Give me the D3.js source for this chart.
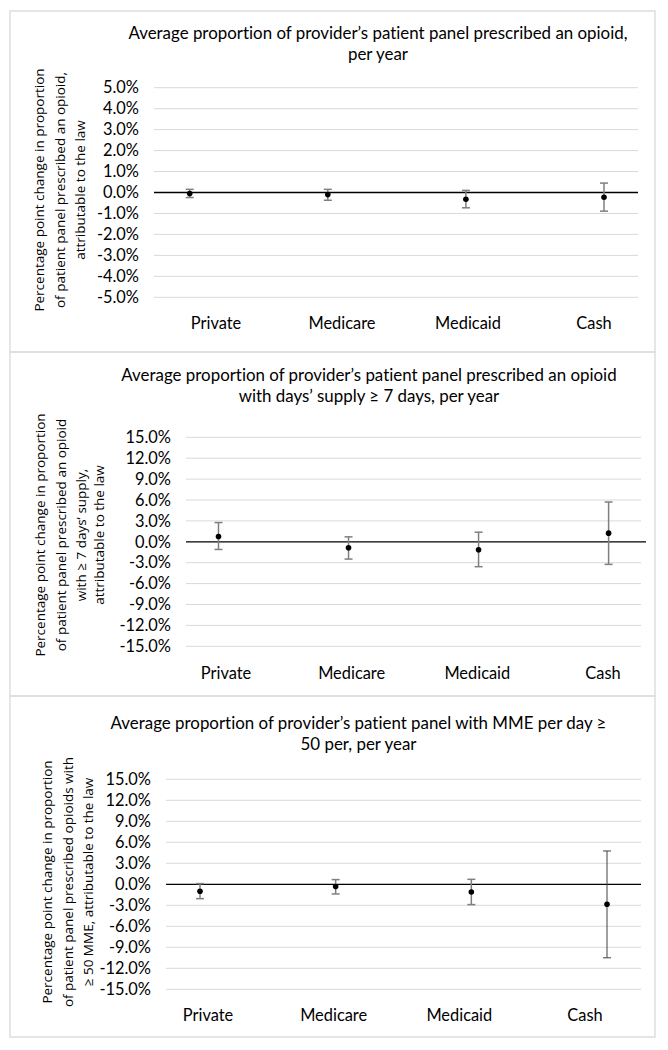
<!DOCTYPE html>
<html><head><meta charset="utf-8">
<script src="https://cdn.jsdelivr.net/npm/d3@7"></script>
<style>body{margin:0;background:#fff;} svg{display:block;} text{font-family:Lato,"Open Sans",sans-serif;fill:#000;font-variant-ligatures:none;font-feature-settings:"liga" 0;}</style>
</head><body>
<script>
// ---- data ----
const categories = ["Private","Medicare","Medicaid","Cash"];
const titles1 = ["Average proportion of provider’s patient panel prescribed an opioid,","per year"];
const titles2 = ["Average proportion of provider’s patient panel prescribed an opioid","with days’ supply ≥ 7 days, per year"];
const titles3 = ["Average proportion of provider’s patient panel with MME per day ≥","50 per, per year"];
const yTitle1 = ["Percentage point change in proportion","of patient panel prescribed an opioid,","attributable to the law"];
const yTitle2 = ["Percentage point change in proportion","of patient panel prescribed an opioid","with ≥ 7 days’ supply,","attributable to the law"];
const yTitle3 = ["Percentage point change in proportion","of patient panel prescribed opioids with","≥ 50 MME, attributable to the law"];
const ticks1 = [5,4,3,2,1,0,-1,-2,-3,-4,-5];
const ticks23 = [15,12,9,6,3,0,-3,-6,-9,-12,-15];
// estimates (%), lower and upper CI (%)
const est1 = [-0.05,-0.10,-0.32,-0.23];
const lo1  = [-0.24,-0.37,-0.73,-0.89];
const hi1  = [0.15,0.15,0.10,0.45];
const est2 = [0.76,-0.86,-1.14,1.24];
const lo2  = [-1.10,-2.48,-3.57,-3.24];
const hi2  = [2.76,0.71,1.38,5.71];
const est3 = [-1.00,-0.33,-1.10,-2.86];
const lo3  = [-2.05,-1.38,-2.90,-10.50];
const hi3  = [0.10,0.67,0.71,4.76];

const W = 668, H = 1050;
const svg = d3.select("body").append("svg").attr("width",W).attr("height",H);
const FT = 16.9, FS = 16.4, FY = 13.5;
const fmt = d => d.toFixed(1) + "%";

const panels = [
  {box:[10,11,655,352], titles:titles1, titleX:378, titleY:[39,60], yTitle:yTitle1, yTitleX:[39,60,80], yTitleY:190,
   ticks:ticks1, dom:[-5,5], yr:[297.3,87.7], gx:[154,638], zx:[154,638], px:[189.7,604], lx:[216,594], ly:329, est:est1, lo:lo1, hi:hi1, dark:[]},
  {box:[10,352,655,696], titles:titles2, titleX:369, titleY:[381,402], yTitle:yTitle2, yTitleX:[40,61,81,99], yTitleY:535,
   ticks:ticks23, dom:[-15,15], yr:[646.3,437.3], gx:[186,641], zx:[186,646], px:[218.5,608.6], lx:[226,603], ly:679, est:est2, lo:lo2, hi:hi2, dark:[]},
  {box:[10,696,655,1037], titles:titles3, titleX:358.5, titleY:[729,750], yTitle:yTitle3, yTitleX:[46.5,68,88], yTitleY:882,
   ticks:ticks23, dom:[-15,15], yr:[989.3,779.3], gx:[166,641], zx:[166,641], px:[200,607], lx:[208,585], ly:1021, est:est3, lo:lo3, hi:hi3, dark:[3]}
];

panels.forEach(p=>{
  const g = svg.append("g");
  g.append("rect").attr("x",p.box[0]).attr("y",p.box[1]).attr("width",p.box[2]-p.box[0]).attr("height",p.box[3]-p.box[1])
   .attr("fill","none").attr("stroke","#dedede").attr("stroke-width",1.5);
  p.titles.forEach((t,i)=>g.append("text").attr("x",p.titleX).attr("y",p.titleY[i]).attr("text-anchor","middle")
     .attr("font-size",FT).text(t));
  p.yTitle.forEach((t,i)=>g.append("text").attr("transform",`translate(${p.yTitleX[i]+5},${p.yTitleY}) rotate(-90)`)
     .attr("text-anchor","middle").attr("font-size",FY).style("font-family","'Open Sans',sans-serif").text(t));
  const y = d3.scaleLinear().domain(p.dom).range(p.yr);
  const x = d3.scaleLinear().domain([0,3]).range(p.px);
  const xl = d3.scalePoint().domain(categories).range(p.lx);
  g.selectAll(".grid").data(p.ticks.filter(d=>d!==0)).join("line")
    .attr("x1",p.gx[0]).attr("x2",p.gx[1]).attr("y1",d=>y(d)).attr("y2",d=>y(d))
    .attr("stroke","#d9d9d9").attr("stroke-width",1);
  const yAxis = d3.axisLeft(y).tickValues(p.ticks).tickSize(0).tickPadding(0).tickFormat(fmt);
  const ya = g.append("g").attr("transform",`translate(${p.gx[0]-15},0)`).call(yAxis);
  ya.select(".domain").remove();
  ya.selectAll("text").attr("font-size",FS).attr("font-family","Lato,'Open Sans',sans-serif").attr("fill","#000");
  g.append("line").attr("x1",p.zx[0]).attr("x2",p.zx[1]).attr("y1",y(0)).attr("y2",y(0)).attr("stroke","#000").attr("stroke-width",1.3);
  g.selectAll(".cat").data(categories).join("text").attr("x",d=>xl(d)).attr("y",p.ly).attr("text-anchor","middle")
    .attr("font-size",FS).text(d=>d);
  categories.forEach((c,i)=>{
    const dark = p.dark.includes(i);
    const col = dark ? "#404040" : "#7f7f7f";
    const sw = dark ? 1 : 1.5;
    const cx = x(i);
    g.append("line").attr("x1",cx).attr("x2",cx).attr("y1",y(p.lo[i])).attr("y2",y(p.hi[i])).attr("stroke",col).attr("stroke-width",sw);
    [p.lo[i],p.hi[i]].forEach(v=>g.append("line").attr("x1",cx-4).attr("x2",cx+4).attr("y1",y(v)).attr("y2",y(v)).attr("stroke",col).attr("stroke-width",sw));
    g.append("circle").attr("cx",cx).attr("cy",y(p.est[i])).attr("r",2.8).attr("fill","#000");
  });
});
</script>
</body></html>
